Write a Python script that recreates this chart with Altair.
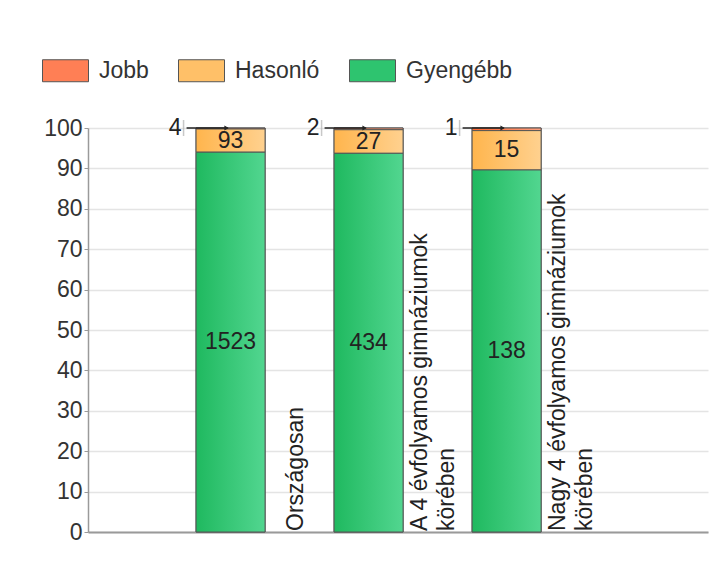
import altair as alt
import pandas as pd

categories = ["Országosan", "A 4 évfolyamos gimnáziumok\nkörében", "Nagy 4 évfolyamos gimnáziumok\nkörében"]
series = ["Jobb", "Hasonló", "Gyengébb"]
jobb = [4, 2, 1]
hasonlo = [93, 27, 15]
gyengebb = [1523, 434, 138]
stack_order = {"Gyengébb": 0, "Hasonló": 1, "Jobb": 2}
solid_colors = ["#ff7f55", "#ffc068", "#2ec46f"]
grad_colors = {
    "Jobb": ("#ff6633", "#ffa07f"),
    "Hasonló": ("#ffb54d", "#ffd18f"),
    "Gyengébb": ("#1fb95f", "#52d690"),
}

rows = []
for i, c in enumerate(categories):
    for s, vals in zip(series, [jobb, hasonlo, gyengebb]):
        rows.append({"cat": c, "series": s, "count": vals[i], "ord": stack_order[s]})
df = pd.DataFrame(rows)

FONT = "Liberation Sans"
FS = 23
LH = 27

base = alt.Chart(df).transform_joinaggregate(
    total="sum(count)", groupby=["cat"]
).transform_calculate(
    pct="datum.count / datum.total * 100"
).transform_stack(
    stack="pct", as_=["y0", "y1"], groupby=["cat"], sort=[alt.SortField("ord", order="ascending")]
).transform_calculate(
    mid="(datum.y0 + datum.y1) / 2",
    nl="length(split(datum.cat, '\\n'))",
)

xenc = alt.X("cat:N", sort=categories,
             scale=alt.Scale(paddingInner=0.5, paddingOuter=0.996, align=0.393),
             axis=alt.Axis(labels=False, ticks=False, title=None, domainColor="#9a9a9a", domainWidth=2, grid=False))
yenc = alt.Y("y1:Q", scale=alt.Scale(domain=[0, 100], nice=False),
             axis=alt.Axis(values=list(range(0, 101, 10)), title=None, tickSize=4, tickColor="#9a9a9a",
                           domainColor="#9a9a9a", domainWidth=1.5, labelFontSize=FS, labelColor="#333333",
                           labelPadding=2, labelFont=FONT, gridColor="#e4e4e4", gridWidth=1.5))

legend_bars = base.mark_bar(stroke="#555555", strokeWidth=1).encode(
    x=xenc, y=yenc, y2="y0:Q",
    color=alt.Color("series:N", scale=alt.Scale(domain=series, range=solid_colors),
                    legend=alt.Legend(orient="none", legendX=-46, legendY=-81, direction="horizontal",
                                      title=None, symbolType="M-1,-0.478L1,-0.478L1,0.478L-1,0.478Z",
                                      symbolSize=2116, symbolStrokeColor="#555555", symbolStrokeWidth=1,
                                      labelFontSize=FS, labelFont=FONT, labelColor="#333333",
                                      labelOffset=10, columnPadding=27, padding=0)),
)

grad_layers = []
for s in series:
    c0, c1 = grad_colors[s]
    g = alt.LinearGradient(gradient="linear", x1=0, x2=1, y1=0, y2=0,
                           stops=[alt.GradientStop(offset=0, color=c0), alt.GradientStop(offset=1, color=c1)])
    grad_layers.append(
        base.transform_filter(alt.datum.series == s).mark_bar(fill=g, stroke="#555555", strokeWidth=1).encode(
            x=alt.X("cat:N", sort=categories), y="y1:Q", y2="y0:Q")
    )

value_text = base.transform_filter(alt.datum.series != "Jobb").mark_text(
    fontSize=FS, font=FONT, color="#222222", baseline="middle"
).encode(x=alt.X("cat:N", sort=categories), y="mid:Q", text="count:Q")

jobb_text = base.transform_filter(alt.datum.series == "Jobb").mark_text(
    fontSize=FS, font=FONT, color="#222222", baseline="middle", align="right", dx=-49
).encode(x=alt.X("cat:N", sort=categories), y="y1:Q", text="count:Q")

leader = base.transform_filter(alt.datum.series == "Jobb").mark_rule(
    color="#222222", strokeWidth=1.5, xOffset=-44, x2Offset=-3
).encode(x=alt.X("cat:N", sort=categories), x2="cat:N", y="y1:Q")

leader_tick = base.transform_filter(alt.datum.series == "Jobb").mark_tick(
    orient="vertical", color="#b0b0b0", thickness=1.5, size=16, xOffset=-47
).encode(x=alt.X("cat:N", sort=categories), y="y1:Q")

arrow = base.transform_filter(alt.datum.series == "Jobb").mark_point(
    shape="triangle-right", filled=True, color="#222222", size=25, opacity=1, xOffset=-4
).encode(x=alt.X("cat:N", sort=categories), y="y1:Q")

label_layers = []
for n, dy in [(1, 65), (2, 65 - LH / 2)]:
    label_layers.append(
        base.transform_filter((alt.datum.series == "Gyengébb") & (alt.datum.nl == n)).mark_text(
            angle=270, align="left", baseline="middle", dy=dy, dx=1, lineBreak="\n",
            fontSize=FS, lineHeight=LH, font=FONT, color="#222222"
        ).encode(x=alt.X("cat:N", sort=categories), y="y0:Q", text="cat:N")
    )

chart = alt.layer(legend_bars, *grad_layers, value_text, jobb_text, leader, leader_tick, arrow, *label_layers).properties(
    width=620, height=404,
    autosize=alt.AutoSizeParams(type="none"),
    padding={"left": 80, "top": 120, "right": 6, "bottom": 38},
    background="white",
).configure_view(stroke=None)

chart.save("out.html", embed_options={"renderer": "svg", "actions": False})
